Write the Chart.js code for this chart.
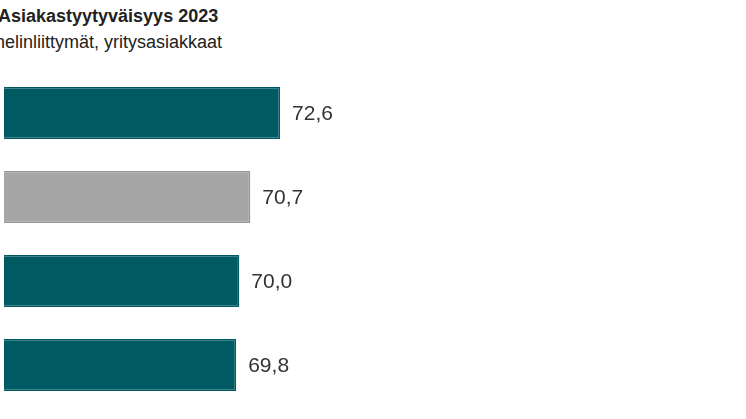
<!DOCTYPE html>
<html><head><meta charset="utf-8">
<script src="https://cdn.jsdelivr.net/npm/chart.js@4"></script>
<style>
html,body{margin:0;padding:0;background:#fff;overflow:hidden}
#wrap{position:relative;width:746px;height:419px}
.t{position:absolute;font-family:"Liberation Sans",Arial,sans-serif;color:#222;white-space:nowrap}
</style></head><body>
<div id="wrap">
<div class="t" style="left:-2px;top:6px;font-size:18px;font-weight:bold">Asiakastyytyväisyys 2023</div>
<div class="t" style="left:-27px;top:32px;font-size:18px">Puhelinliittymät, yritysasiakkaat</div>
<canvas id="c" width="746" height="419" style="position:absolute;left:0;top:0"></canvas>
</div>
<script>
const categories = ["A", "Toimiala", "B", "C"];
const values = [72.6, 70.7, 70.0, 69.8];
const colors = ["#005a64", "#a6a6a6", "#005a64", "#005a64"];
const borders = ["#005a64", "#959595", "#005a64", "#005a64"];

const labelPlugin = {
  id: 'lbl',
  afterDatasetsDraw(chart) {
    const ctx = chart.ctx;
    const meta = chart.getDatasetMeta(0);
    ctx.save();
    ctx.font = '21px "Liberation Sans", Arial, sans-serif';
    ctx.fillStyle = '#333';
    ctx.textBaseline = 'middle';
    meta.data.forEach((bar, i) => {
      ctx.fillText(values[i].toFixed(1).replace('.', ','), bar.x + 12, bar.y + 1);
    });
    ctx.restore();
  }
};

new Chart(document.getElementById('c'), {
  type: 'bar',
  data: { labels: categories, datasets: [{ data: values, backgroundColor: colors, borderColor: borders, borderWidth: 1.5, barPercentage: 1, categoryPercentage: 0.62 }] },
  options: {
    indexAxis: 'y', responsive: false, animation: false,
    layout: { padding: { left: 4, right: 36, top: 71, bottom: 12 } },
    plugins: { legend: { display: false }, tooltip: { enabled: false } },
    scales: {
      x: { min: 55, max: 100, display: false },
      y: { display: false }
    }
  },
  plugins: [labelPlugin]
});
</script>
</body></html>
